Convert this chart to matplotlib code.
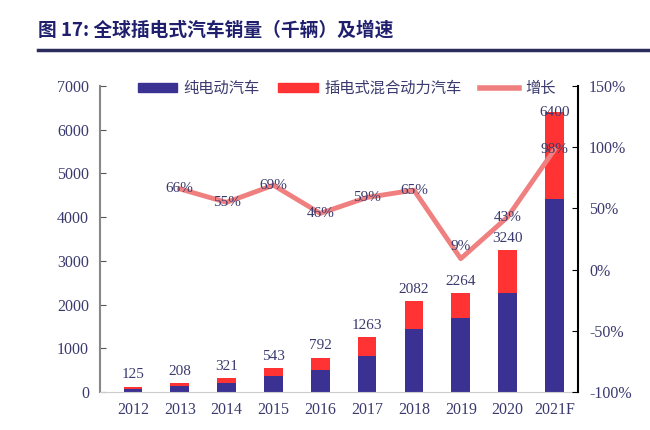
import numpy as np
import matplotlib.pyplot as plt
from matplotlib.lines import Line2D
from matplotlib.patches import Patch

years = ['2012', '2013', '2014', '2015', '2016', '2017', '2018', '2019', '2020', '2021F']
total = [125, 208, 321, 543, 792, 1263, 2082, 2264, 3240, 6400]
bev = [80, 130, 210, 370, 500, 830, 1440, 1690, 2260, 4410]
phev = [t - b for t, b in zip(total, bev)]
growth_years = years[1:]
growth = [66, 55, 69, 46, 59, 65, 9, 43, 98]

navy = '#3B3192'
red = '#FF3333'
pink = '#F08080'
txt = '#3A3A6E'
cjk = ['Noto Sans CJK SC', 'DejaVu Sans']
serif = ['Liberation Serif', 'DejaVu Serif']

fig = plt.figure(figsize=(6.5, 4.3), dpi=100)
fig.text(0.058, 0.93, '图 17: 全球插电式汽车销量（千辆）及增速', family=cjk,
         fontsize=13.5, fontweight='bold', color='#1F1F6E', va='center')
fig.add_artist(Line2D([0.058, 1.0], [0.884, 0.884], color='#2B2B5E', lw=2.5))

ax = fig.add_axes([0.154, 0.088, 0.735, 0.712])
x = np.arange(len(years))
ax.bar(x, bev, width=0.4, color=navy)
ax.bar(x, phev, width=0.4, bottom=bev, color=red)
ax.set_xlim(-0.7, 9.5)
ax.set_ylim(0, 7000)
ax.set_yticks(range(0, 7001, 1000))
ax.set_xticks(x)
ax.set_xticklabels(years)
for i, t in enumerate(total):
    if i == len(total) - 1:
        ax.text(i, t, str(t), ha='center', va='center', fontsize=11, family=serif, color=txt)
    else:
        ax.text(i, t + 120, str(t), ha='center', va='bottom', fontsize=11, family=serif, color=txt)

for lab in ax.get_xticklabels() + ax.get_yticklabels():
    lab.set_family(serif)
    lab.set_fontsize(11.5)
    lab.set_color(txt)
ax.tick_params(axis='x', length=0, pad=7)
ax.tick_params(axis='y', direction='in', length=4, pad=8, color='#555555')
ax.spines['top'].set_visible(False)
ax.spines['right'].set_visible(False)
ax.spines['left'].set_color('#888888')
ax.spines['left'].set_linewidth(1.5)
ax.spines['bottom'].set_color('#cccccc')

ax2 = ax.twinx()
gx = [years.index(y) for y in growth_years]
ax2.plot(gx, growth, color=pink, lw=3.5, zorder=3)
ax2.set_ylim(-100, 150)
ax2.set_yticks(range(-100, 151, 50))
ax2.set_yticklabels([f'{v}%' for v in range(-100, 151, 50)])
for xi, g in zip(gx, growth):
    dy = 10 if g < 20 else 0
    ax2.text(xi, g + dy, f'{g}%', ha='center', va='center', fontsize=11,
             family=serif, color=txt, zorder=4)
for lab in ax2.get_yticklabels():
    lab.set_family(serif)
    lab.set_fontsize(11.5)
    lab.set_color(txt)
ax2.tick_params(axis='y', direction='in', length=4, pad=8, color='black')
ax2.spines['top'].set_visible(False)
ax2.spines['left'].set_visible(False)
ax2.spines['bottom'].set_visible(False)
ax2.spines['right'].set_linewidth(1.5)

handles = [Patch(color=navy), Patch(color=red), Line2D([], [], color=pink, lw=4)]
labels = ['纯电动汽车', '插电式混合动力汽车', '增长']
leg = ax.legend(handles, labels, loc='upper left', bbox_to_anchor=(0.05, 1.065), ncol=3,
                frameon=False, prop={'family': cjk, 'size': 11}, handlelength=2.6,
                handleheight=0.6, columnspacing=1.2, handletextpad=0.4)
for t in leg.get_texts():
    t.set_color(txt)

fig.savefig('out.png', dpi=100)
